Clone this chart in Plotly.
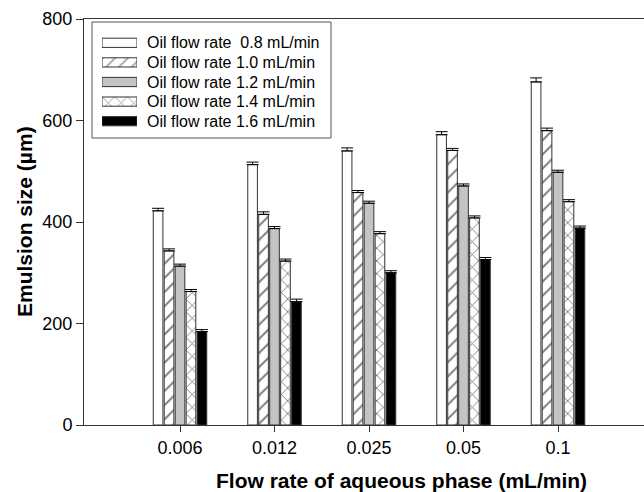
import plotly.graph_objects as go

categories = ["0.006", "0.012", "0.025", "0.05", "0.1"]
series_names = [
    "Oil flow rate  0.8 mL/min",
    "Oil flow rate 1.0 mL/min",
    "Oil flow rate 1.2 mL/min",
    "Oil flow rate 1.4 mL/min",
    "Oil flow rate 1.6 mL/min",
]
size_08 = [422, 513, 540, 572, 676]
size_10 = [343, 415, 458, 541, 580]
size_12 = [313, 387, 437, 471, 498]
size_14 = [263, 323, 377, 408, 440]
size_16 = [184, 243, 300, 326, 388]
err_08 = [5, 5, 6, 6, 8]
err_10 = [4, 5, 4, 4, 5]
err_12 = [4, 4, 4, 4, 4]
err_14 = [4, 4, 4, 4, 4]
err_16 = [4, 5, 4, 4, 4]

values = [size_08, size_10, size_12, size_14, size_16]
errors = [err_08, err_10, err_12, err_14, err_16]

FONT = "Liberation Sans, Arial, sans-serif"
LINE = "#333333"
fills = ["white", "white", "#c4c4c4", "white", "black"]
shapes_ = ["", "/", "", "x", ""]
PAT_SIZE = {"": 8, "/": 10, "x": 9}


def pattern(shape):
    if not shape:
        return dict(shape="")
    return dict(shape=shape, fgcolor="#000000", size=PAT_SIZE[shape], solidity=0.2)


def label(s):
    return s.replace("  ", " \u00a0")


fig = go.Figure()
for name, vals, errs, fc, sh in zip(series_names, values, errors, fills, shapes_):
    fig.add_trace(go.Bar(
        x=categories, y=vals, name=label(name),
        marker=dict(color=fc, pattern=pattern(sh), line=dict(color=LINE, width=1)),
        error_y=dict(type="data", array=errs, symmetric=False, arrayminus=[0] * len(errs),
                     color="black", thickness=1, width=6),
        showlegend=False,
    ))

# Legend drawn as a small horizontal bar chart (swatches) on its own axes
legend_labels = [label(n) for n in series_names]
fig.add_trace(go.Bar(
    x=[1] * len(series_names), y=legend_labels, orientation="h",
    xaxis="x2", yaxis="y2", width=0.47, showlegend=False, hoverinfo="skip",
    marker=dict(color=fills, pattern=dict(shape=shapes_, fgcolor="#000000", size=9, solidity=0.2),
                line=dict(color=LINE, width=1)),
))


# plot area in pixels: x 84..644, y 19..425
def px_x(p):
    return (p - 84) / 560


def px_y(p):
    return (425 - p) / 406


fig.update_layout(
    width=644, height=492,
    margin=dict(l=84, r=0, t=19, b=67),
    paper_bgcolor="white", plot_bgcolor="white",
    barmode="group", bargap=0.42, bargroupgap=0.12,
    font=dict(family=FONT, color="black"),
    showlegend=False,
    xaxis=dict(
        type="category", range=[-1.016, 4.91],
        showline=True, linecolor=LINE, linewidth=1, mirror=True,
        ticks="outside", ticklen=6, tickcolor=LINE,
        tickfont=dict(size=18), showgrid=False, zeroline=False,
    ),
    yaxis=dict(
        range=[0, 800], dtick=200,
        showline=True, linecolor=LINE, linewidth=1,
        ticks="outside", ticklen=7, tickcolor=LINE,
        tickfont=dict(size=18), showgrid=False, zeroline=False,
    ),
    xaxis2=dict(domain=[px_x(102), px_x(137)], anchor="y2", range=[0, 1], visible=False, fixedrange=True),
    yaxis2=dict(domain=[px_y(131), px_y(33)], anchor="x2", side="right", type="category",
                categoryorder="array", categoryarray=legend_labels, autorange="reversed",
                showline=False, showgrid=False, zeroline=False, ticks="",
                ticklabelstandoff=9, tickfont=dict(size=16, family=FONT)),
    shapes=[dict(type="rect", xref="paper", yref="paper",
                 x0=px_x(92), x1=px_x(331), y0=px_y(138), y1=px_y(22),
                 line=dict(color="#555555", width=1), fillcolor="white", layer="below")],
)
fig.add_annotation(text="<b>Flow rate of aqueous phase (mL/min)</b>", xref="paper", yref="paper",
                   x=px_x(401), y=px_y(480), xanchor="center", yanchor="middle",
                   showarrow=False, font=dict(size=21, family=FONT))
fig.add_annotation(text="<b>Emulsion size (µm)</b>", xref="paper", yref="paper",
                   x=px_x(24), y=0.5, xanchor="center", yanchor="middle", textangle=-90,
                   showarrow=False, font=dict(size=21, family=FONT))

fig.write_html("out.html", config={"displayModeBar": False},
               post_script="document.body.style.margin='0px';document.body.style.overflow='hidden';")
